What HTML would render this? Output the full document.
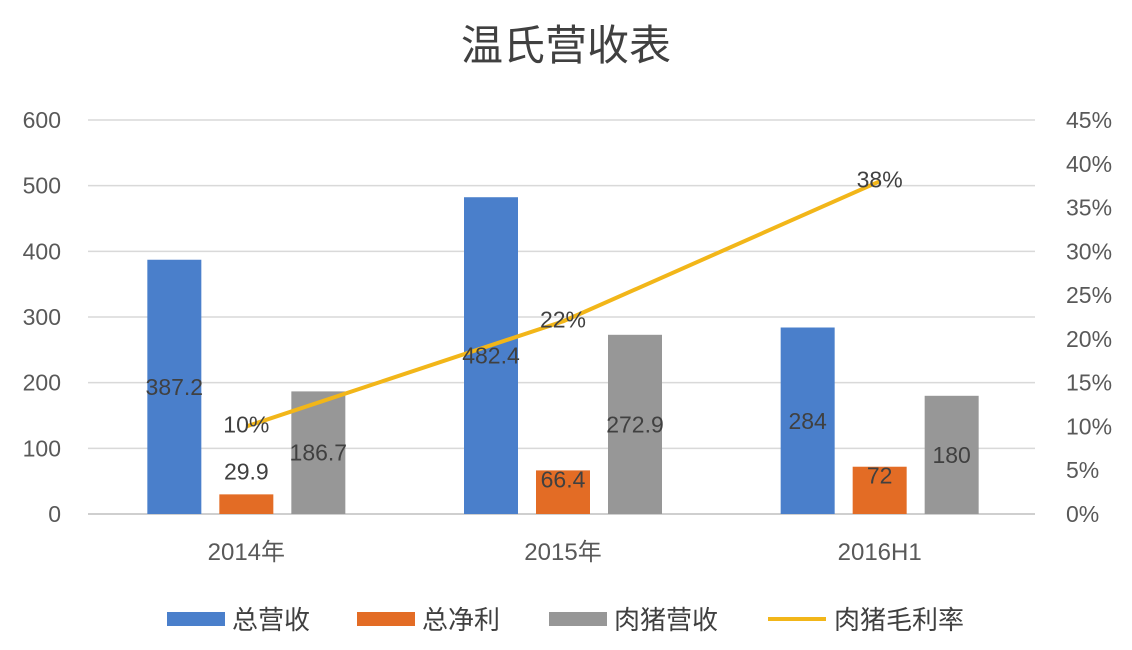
<!DOCTYPE html>
<html><head><meta charset="utf-8"><style>
html,body{margin:0;padding:0;background:#fff;}
svg{display:block;font-family:"Liberation Sans","Noto Sans CJK SC",sans-serif;}
</style></head><body>
<svg id="chart" width="1132" height="650" viewBox="0 0 1132 650">
<text x="566" y="60" text-anchor="middle" font-size="42" fill="#404040">温氏营收表</text>
<g id="grid"></g><g id="bars"></g><g id="line"></g><g id="labels"></g>
<g>
<rect x="167" y="612" width="58" height="14" fill="#4a7fcb"/>
<text x="232" y="629" font-size="26" fill="#404040">总营收</text>
<rect x="357" y="612" width="58" height="14" fill="#e36c25"/>
<text x="422" y="629" font-size="26" fill="#404040">总净利</text>
<rect x="549" y="612" width="58" height="14" fill="#979797"/>
<text x="614" y="629" font-size="26" fill="#404040">肉猪营收</text>
<line x1="768" y1="619" x2="826" y2="619" stroke="#f2b619" stroke-width="4"/>
<text x="834" y="629" font-size="26" fill="#404040">肉猪毛利率</text>
</g>
</svg>
<script>
const categories=["2014年","2015年","2016H1"];
const totalRevenue=[387.2,482.4,284];
const netProfit=[29.9,66.4,72];
const pigRevenue=[186.7,272.9,180];
const pigMargin=[0.10,0.22,0.38];
const leftTicks=[0,100,200,300,400,500,600];
const rightTicks=[0,0.05,0.10,0.15,0.20,0.25,0.30,0.35,0.40,0.45];
const NS="http://www.w3.org/2000/svg";
const y0=514,yTop=120,x0=88,x1=1038;
const yL=v=>y0-(v/600)*(y0-yTop);
const yR=v=>y0-(v/0.45)*(y0-yTop);
const band=(x1-x0)/categories.length;
const xc=i=>x0+band*(i+0.5);
function mk(tag,attrs,parent){const e=document.createElementNS(NS,tag);for(const k in attrs)e.setAttribute(k,attrs[k]);document.getElementById(parent).appendChild(e);return e;}
leftTicks.forEach(t=>{
 const l=mk("line",{x1:x0,x2:x1-3,y1:yL(t),y2:yL(t),stroke:t===0?"#bfbfbf":"#d9d9d9","stroke-width":1.5},"grid");
 
 
 const tx=mk("text",{x:61,y:yL(t)+8,"text-anchor":"end","font-size":23,fill:"#595959"},"grid");tx.textContent=t;
 
 
});
rightTicks.forEach(t=>{
 const tx=mk("text",{x:1066,y:yR(t)+8,"font-size":23,fill:"#595959"},"grid");tx.textContent=Math.round(t*100)+"%";
 
 
});
categories.forEach((c,i)=>{
 const tx=mk("text",{x:xc(i),y:560,"text-anchor":"middle","font-size":24,fill:"#595959"},"grid");tx.textContent=c;
 
 
});
const series=[[totalRevenue,"#4a7fcb","bar-total-revenue",-72],[netProfit,"#e36c25","bar-net-profit",0],[pigRevenue,"#979797","bar-pig-revenue",72]];
const bw=54;
series.forEach(([vals,col,name,off],si)=>{
 vals.forEach((v,i)=>{
  const x=xc(i)+off-bw/2,top=yL(v),h=y0-top;
  const r=mk("rect",{x:x,y:top,width:bw,height:h,fill:col},"bars");
  
  
  let ly=top+h/2+8;
  if(si===1) ly = h<30 ? top-15 : top+17;
  const t=mk("text",{x:xc(i)+off,y:ly,"text-anchor":"middle","font-size":23,fill:"#404040"},"labels");t.textContent=v;
  
  
 });
});
const pts=pigMargin.map((v,i)=>xc(i)+","+yR(v)).join(" ");
const pl=mk("polyline",{points:pts,fill:"none",stroke:"#f2b619","stroke-width":4,"stroke-linejoin":"round"},"line");


pigMargin.forEach((v,i)=>{
 const t=mk("text",{x:xc(i),y:yR(v)+6,"text-anchor":"middle","font-size":23,fill:"#404040"},"labels");t.textContent=Math.round(v*100)+"%";
 
 
});
</script>
</body></html>
